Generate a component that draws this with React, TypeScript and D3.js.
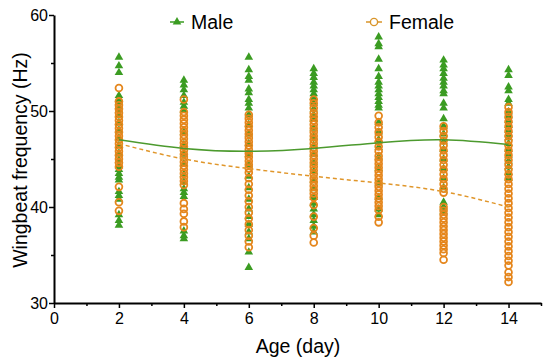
import { useEffect, useRef } from 'react';
import * as d3 from 'd3';

// wingbeat frequency (Hz) per age
const days = [2, 4, 6, 8, 10, 12, 14];

const male2 = [55.6, 54.7, 54.0, 51.6, 51.2, 50.9, 50.5, 50.1, 49.6, 48.8, 48.0, 47.2, 46.4, 45.6, 44.9, 44.3, 43.9, 43.5, 43.1, 42.8, 41.6, 41.2, 40.8, 39.2, 38.6, 38.1];
const male4 = [53.2, 52.7, 52.2, 51.6, 50.9, 50.5, 50.1, 47.8, 46.5, 45.5, 44.5, 43.4, 42.6, 41.9, 41.5, 41.1, 37.5, 37.0, 36.7];
const male6 = [55.6, 54.3, 53.6, 53.2, 52.3, 51.9, 51.2, 50.8, 50.3, 49.6, 48.6, 47.6, 46.6, 45.5, 44.4, 43.2, 42.0, 40.8, 39.8, 39.0, 38.2, 37.4, 36.7, 35.3, 33.7];
const male8 = [54.4, 53.9, 53.5, 53.0, 52.6, 52.2, 51.8, 51.4, 50.8, 50.2, 49.6, 49.1, 48.2, 47.3, 46.4, 45.5, 44.6, 43.7, 42.8, 41.9, 41.0, 40.4, 39.8, 39.2, 38.6, 38.0, 37.4];
const male10 = [57.7, 57.0, 56.7, 55.4, 54.4, 53.6, 53.0, 52.6, 52.2, 51.8, 51.4, 51.0, 50.6, 50.3, 48.8, 47.8, 47.0, 46.2, 45.2, 44.0, 42.5, 41.0, 39.8, 39.2];
const male12 = [55.3, 54.8, 54.4, 53.9, 53.4, 53.0, 52.6, 52.1, 51.8, 50.8, 50.3, 49.2, 48.4, 47.6, 46.8, 46.0, 45.0, 44.0, 43.0, 42.0, 40.5, 40.0, 39.5];
const male14 = [54.3, 53.7, 52.5, 52.1, 51.2, 50.8, 49.9, 49.5, 49.0, 48.5, 48.0, 47.6, 47.2, 46.6, 46.0, 45.4, 44.8, 44.2, 43.6, 43.0];

const female2 = [52.4, 51.0, 50.6, 50.2, 49.8, 49.4, 49.0, 48.6, 48.2, 47.8, 47.4, 47.0, 46.6, 46.2, 45.8, 45.4, 45.0, 44.6, 44.2, 42.1, 40.5, 39.6];
const female4 = [51.2, 49.9, 49.5, 49.1, 48.7, 48.3, 47.9, 47.5, 47.1, 46.7, 46.3, 45.9, 45.5, 45.1, 44.7, 44.3, 43.9, 43.5, 43.1, 42.7, 42.3, 40.4, 39.8, 39.3, 38.5, 37.9];
const female6 = [49.6, 49.2, 48.8, 48.4, 48.0, 47.6, 47.2, 46.8, 46.4, 46.0, 45.6, 45.2, 44.8, 44.4, 44.0, 43.6, 43.0, 42.4, 41.8, 41.2, 40.6, 40.0, 39.4, 38.8, 38.2, 37.6, 37.0, 36.4, 35.8];
const female8 = [51.2, 50.8, 50.3, 49.8, 49.4, 49.0, 48.6, 48.2, 47.8, 47.4, 47.0, 46.6, 46.2, 45.8, 45.4, 45.0, 44.6, 44.2, 43.8, 43.4, 43.0, 42.6, 42.2, 41.8, 41.4, 41.0, 40.2, 39.0, 37.8, 37.0, 36.3];
const female10 = [49.5, 48.8, 48.3, 47.8, 47.3, 46.8, 46.3, 45.8, 45.3, 44.9, 44.5, 44.1, 43.7, 43.3, 42.9, 42.5, 42.1, 41.7, 41.3, 40.9, 40.5, 40.1, 39.7, 39.0, 38.4];
const female12 = [48.4, 47.9, 47.4, 46.9, 46.4, 45.9, 45.4, 44.9, 44.4, 43.9, 43.4, 42.9, 42.4, 41.9, 41.5, 40.0, 39.6, 39.2, 38.8, 38.4, 38.0, 37.6, 37.2, 36.8, 36.4, 36.0, 35.6, 35.2, 34.5];
const female14 = [50.4, 49.9, 49.4, 48.9, 48.4, 47.9, 47.4, 46.9, 46.4, 45.9, 45.4, 44.9, 44.4, 43.9, 43.4, 42.9, 42.4, 41.9, 41.4, 40.9, 40.4, 39.9, 39.4, 38.9, 38.4, 37.9, 37.4, 36.9, 36.4, 35.9, 35.4, 34.9, 34.4, 33.9, 33.2, 32.7, 32.2];

// fitted trend values at each age
const maleFit = [47.0, 46.1, 45.8, 46.1, 46.7, 47.0, 46.5];
const femaleFit = [46.6, 45.0, 44.0, 43.2, 42.5, 41.6, 40.0];

const maleSets = [male2, male4, male6, male8, male10, male12, male14];
const femaleSets = [female2, female4, female6, female8, female10, female12, female14];

const xTicks = [0, 2, 4, 6, 8, 10, 12, 14];
const yTicks = [30, 40, 50, 60];

const MALE = '#3b9c22';
const FEMALE = '#e5861c';
const FONT = "'Liberation Sans', Arial, sans-serif";

const App = () => {
  const svgRef = useRef<SVGSVGElement>(null);

  useEffect(() => {
    const svg = d3.select(svgRef.current);
    svg.selectAll('*').remove();

    const x = d3.scaleLinear().domain([0, 15]).range([54, 541]);
    const y = d3.scaleLinear().domain([30, 60]).range([303, 15]);

    // points
    const tri = d3.symbol().type(d3.symbolTriangle).size(32);
    days.forEach((day, i) => {
      svg
        .append('g')
        .selectAll('path')
        .data(maleSets[i])
        .enter()
        .append('path')
        .attr('d', tri)
        .attr('transform', (d) => `translate(${x(day)},${y(d)})`)
        .attr('fill', MALE);
    });
    days.forEach((day, i) => {
      svg
        .append('g')
        .selectAll('circle')
        .data(femaleSets[i])
        .enter()
        .append('circle')
        .attr('cx', x(day))
        .attr('cy', (d) => y(d))
        .attr('r', 3.4)
        .attr('fill', 'none')
        .attr('stroke', FEMALE)
        .attr('stroke-width', 1.8);
    });

    // fitted curves
    const line = d3
      .line<number>()
      .x((_, i) => x(days[i]))
      .y((d) => y(d))
      .curve(d3.curveNatural);
    svg
      .append('path')
      .attr('d', line(maleFit))
      .attr('fill', 'none')
      .attr('stroke', '#4c9a2e')
      .attr('stroke-width', 1.5);
    svg
      .append('path')
      .attr('d', line(femaleFit))
      .attr('fill', 'none')
      .attr('stroke', '#e0962a')
      .attr('stroke-width', 1.5)
      .attr('stroke-dasharray', '4,3');

    // x axis
    const xAxis = svg.append('g').attr('transform', 'translate(0,303)');
    xAxis
      .call(
        d3
          .axisBottom(x)
          .tickValues(d3.range(0, 16))
          .tickSize(5)
          .tickSizeOuter(0)
          .tickFormat((d) => (xTicks.includes(d as number) ? String(d) : ''))
      )
      .call((g) => g.select('.domain').attr('stroke-width', 2))
      .call((g) =>
        g
          .selectAll('.tick line')
          .attr('stroke-width', 1.5)
          .attr('y2', (d) => ((d as number) % 2 === 0 ? 5 : 3))
      )
      .call((g) =>
        g
          .selectAll('.tick text')
          .attr('y', 10)
          .attr('font-size', 16)
          .attr('font-family', FONT)
          .attr('fill', '#000')
      );

    // y axis
    const yAxis = svg.append('g').attr('transform', 'translate(54,0)');
    yAxis
      .call(
        d3
          .axisLeft(y)
          .tickValues([30, 35, 40, 45, 50, 55, 60])
          .tickSize(5)
          .tickSizeOuter(0)
          .tickFormat((d) => (yTicks.includes(d as number) ? String(d) : ''))
      )
      .call((g) => g.select('.domain').attr('stroke-width', 2))
      .call((g) =>
        g
          .selectAll('.tick line')
          .attr('stroke-width', 1.5)
          .attr('x2', (d) => ((d as number) % 10 === 0 ? -5 : -3))
      )
      .call((g) =>
        g
          .selectAll('.tick text')
          .attr('x', -6)
          .attr('font-size', 16)
          .attr('font-family', FONT)
          .attr('fill', '#000')
      );

    // axis titles
    svg
      .append('text')
      .attr('x', 298)
      .attr('y', 353)
      .attr('text-anchor', 'middle')
      .attr('font-family', FONT)
      .attr('font-size', 19.5)
      .text('Age (day)');
    svg
      .append('text')
      .attr('transform', 'translate(27,160) rotate(-90)')
      .attr('text-anchor', 'middle')
      .attr('font-family', FONT)
      .attr('font-size', 19.5)
      .text('Wingbeat frequency (Hz)');

    // legend
    const legend = svg.append('g');
    legend.append('line').attr('x1', 170).attr('x2', 184).attr('y1', 22).attr('y2', 22).attr('stroke', MALE).attr('stroke-width', 1.5);
    legend.append('path').attr('d', tri).attr('transform', 'translate(177,22)').attr('fill', MALE);
    legend.append('text').attr('x', 191).attr('y', 29).attr('font-family', FONT).attr('font-size', 19.5).text('Male');
    legend.append('line').attr('x1', 366).attr('x2', 382).attr('y1', 22).attr('y2', 22).attr('stroke', '#d9952a').attr('stroke-width', 1.5);
    legend.append('circle').attr('cx', 374).attr('cy', 22).attr('r', 3.6).attr('fill', '#fff').attr('stroke', '#d9952a').attr('stroke-width', 1.4);
    legend.append('text').attr('x', 389).attr('y', 29).attr('font-family', FONT).attr('font-size', 19.5).text('Female');
  }, []);

  return (
    <svg
      ref={svgRef}
      width={550}
      height={361}
      style={{ position: 'absolute', left: 0, top: 0, background: '#fff' }}
    />
  );
};

export default App;
